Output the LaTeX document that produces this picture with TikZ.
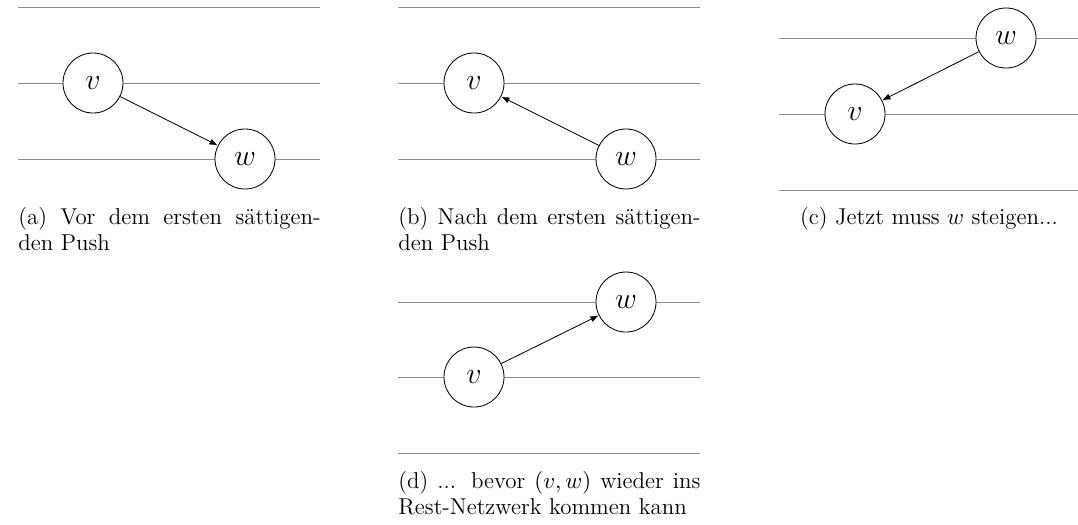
\documentclass[tikz,border=0pt]{standalone}
\usepackage{fontspec}
\usetikzlibrary{arrows.meta}

\begin{document}
\begin{tikzpicture}[x=0.48pt,y=-0.48pt,>={Latex[length=4pt]},
 level/.style={draw=black!45},
 vertex/.style={draw,circle,fill=white,minimum size=28.8pt,inner sep=0pt,font=\fontsize{13.5}{16}\selectfont},
 subcap/.style={anchor=north west,inner sep=0pt,text width=145pt,align=justify,font=\fontsize{11}{12.5}\selectfont}]
\useasboundingbox (0,0) rectangle (1078,524);
% (a)
\draw[level] (18,7)--(320,7);\draw[level] (18,83)--(320,83);\draw[level] (18,159)--(320,159);
\node[vertex] (va) at (93,83) {$v$};
\node[vertex] (wa) at (245,159) {$w$};
\draw[->] (va)--(wa);
\node[subcap] (capa) at (18,207) {(a) Vor dem ersten sättigen-\linebreak den Push};
% (b)
\draw[level] (398,7)--(700,7);\draw[level] (398,83)--(700,83);\draw[level] (398,159)--(700,159);
\node[vertex] (vb) at (474,83) {$v$};
\node[vertex] (wb) at (626,159) {$w$};
\draw[->] (wb)--(vb);
\node[subcap] (capb) at (398,207) {(b) Nach dem ersten sättigen-\linebreak den Push};
% (c)
\draw[level] (779,38)--(1078,38);\draw[level] (779,114)--(1078,114);\draw[level] (779,190)--(1078,190);
\node[vertex] (wc) at (1006,38) {$w$};
\node[vertex] (vc) at (855,114) {$v$};
\draw[->] (wc)--(vc);
\node[anchor=north,inner sep=0pt,font=\fontsize{11}{12.5}\selectfont] (capc) at (929,207) {(c) Jetzt muss $w$ steigen...};
% (d)
\draw[level] (398,302)--(700,302);\draw[level] (398,377)--(700,377);\draw[level] (398,453)--(700,453);
\node[vertex] (wd) at (626,302) {$w$};
\node[vertex] (vd) at (474,377) {$v$};
\draw[->] (vd)--(wd);
\node[subcap] (capd) at (398,471) {(d) ... bevor $(v,w)$ wieder ins Rest-Netzwerk kommen kann};
\end{tikzpicture}
\end{document}
